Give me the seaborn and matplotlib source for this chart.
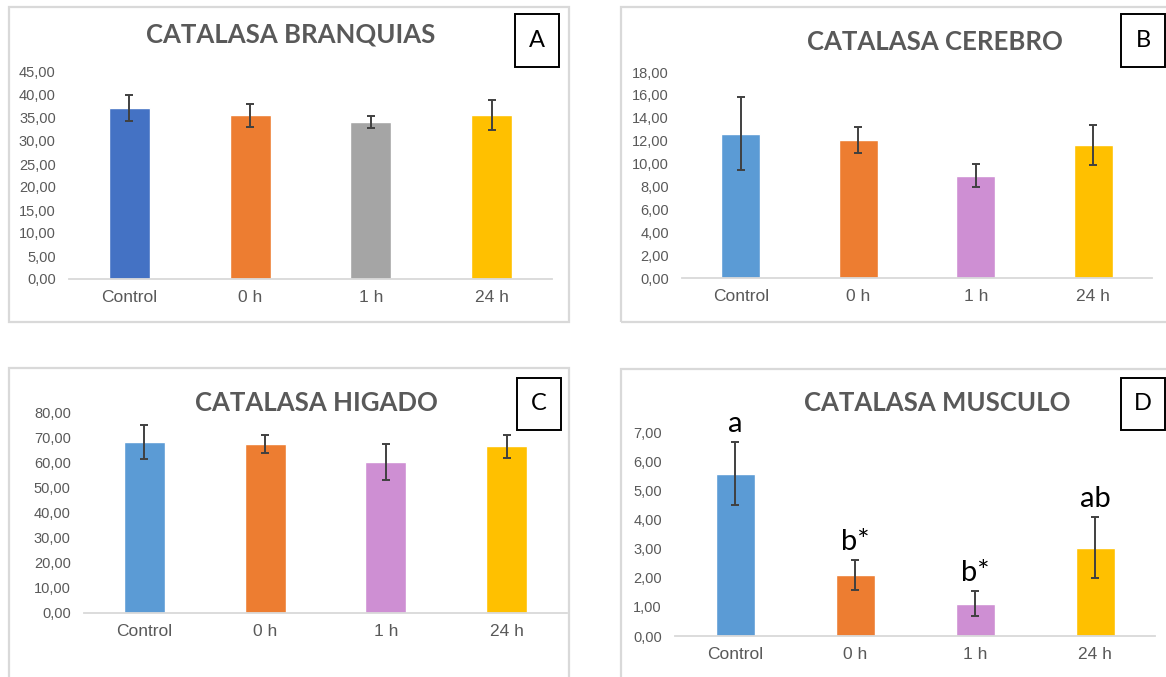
import matplotlib
matplotlib.use("Agg")
import matplotlib.pyplot as plt
from matplotlib.patches import Rectangle
from matplotlib.ticker import MultipleLocator, FuncFormatter
import pandas as pd
import seaborn as sns

# ---- data -------------------------------------------------------------
groups = ["Control", "0 h", "1 h", "24 h"]

branquias_mean = [37.1, 35.6, 34.1, 35.6]
branquias_err = [2.8, 2.5, 1.3, 3.3]

cerebro_mean = [12.6, 12.05, 8.95, 11.65]
cerebro_err = [3.2, 1.15, 1.0, 1.75]

higado_mean = [68.1, 67.2, 60.0, 66.3]
higado_err = [6.8, 3.6, 7.1, 4.5]

musculo_mean = [5.56, 2.10, 1.11, 3.03]
musculo_err = [1.08, 0.51, 0.43, 1.05]
musculo_letters = ["a", "b*", "b*", "ab"]

colors_a = ["#4472C4", "#ED7D31", "#A5A5A5", "#FFC000"]
colors_bcd = ["#5B9BD5", "#ED7D31", "#CE8FD3", "#FFC000"]

# ---- styling ----------------------------------------------------------
sns.set_style("white")
plt.rcParams["font.family"] = ["Liberation Sans", "DejaVu Sans"]

W, H = 1166, 677
fig = plt.figure(figsize=(W / 100, H / 100), dpi=100)
fig.patch.set_facecolor("white")

GRAY_TXT = "#595959"
FRAME = "#d9d9d9"
TITLE_FONT = ["Lato", "DejaVu Sans"]


def px_rect(x0, x1, ybot, ytop):
    return [x0 / W, 1 - ybot / H, (x1 - x0) / W, (ybot - ytop) / H]


def comma_fmt(v, _):
    return f"{v:.2f}".replace(".", ",")


panels = [
    dict(title="CATALASA BRANQUIAS", tag="A", mean=branquias_mean, err=branquias_err,
         colors=colors_a, ymax=45, step=5, axes=(69, 552, 279, 72),
         frame=(9, 7, 569, 322), title_xy=(291, 34), tag_box=(515, 14, 559, 67),
         width=0.34),
    dict(title="CATALASA CEREBRO", tag="B", mean=cerebro_mean, err=cerebro_err,
         colors=colors_bcd, ymax=18, step=2, axes=(682, 1152, 278, 72),
         frame=(621, 7, 1180, 322), title_xy=(935, 42), tag_box=(1121, 14, 1165, 67),
         width=0.33),
    dict(title="CATALASA HIGADO", tag="C", mean=higado_mean, err=higado_err,
         colors=colors_bcd, ymax=80, step=10, axes=(84, 567, 613, 412),
         frame=(9, 368, 569, 690), title_xy=(316, 403), tag_box=(517, 378, 561, 430),
         width=0.34),
    dict(title="CATALASA MUSCULO", tag="D", mean=musculo_mean, err=musculo_err,
         colors=colors_bcd, ymax=7, step=1, axes=(675, 1155, 636, 432),
         frame=(621, 369, 1180, 690), title_xy=(937, 403), tag_box=(1121, 378, 1165, 430),
         width=0.325, letters=musculo_letters),
]

for p in panels:
    # outer chart frame
    fx0, fy0, fx1, fy1 = p["frame"]
    fig.add_artist(Rectangle((fx0 / W, 1 - fy1 / H), (fx1 - fx0) / W, (fy1 - fy0) / H,
                             transform=fig.transFigure, facecolor="none",
                             edgecolor=FRAME, linewidth=1.6, zorder=0))

    x0, x1, ybot, ytop = p["axes"]
    ax = fig.add_axes(px_rect(x0, x1, ybot, ytop))
    ax.set_facecolor("none")

    df = pd.DataFrame({"grupo": groups, "valor": p["mean"]})
    sns.barplot(data=df, x="grupo", y="valor", hue="grupo", palette=p["colors"],
                order=groups, hue_order=groups, width=p["width"], legend=False,
                errorbar=None, saturation=1, ax=ax)
    ax.errorbar(range(len(groups)), p["mean"], yerr=p["err"], fmt="none",
                ecolor="#404040", elinewidth=1.4, capsize=2.6, capthick=1.4, zorder=5)

    ax.set_xlim(-0.5, len(groups) - 0.5)
    ax.set_ylim(0, p["ymax"])
    ax.yaxis.set_major_locator(MultipleLocator(p["step"]))
    ax.yaxis.set_major_formatter(FuncFormatter(comma_fmt))
    ax.set_xlabel("")
    ax.set_ylabel("")
    for s in ["left", "right", "top"]:
        ax.spines[s].set_visible(False)
    ax.spines["bottom"].set_color(FRAME)
    ax.spines["bottom"].set_linewidth(1.3)
    ax.tick_params(axis="y", length=0, pad=9.5, labelsize=10.5, labelcolor=GRAY_TXT)
    ax.tick_params(axis="x", length=0, pad=8, labelsize=12.5, labelcolor=GRAY_TXT)
    ax.grid(False)

    # significance letters above error bars
    if "letters" in p:
        for i, lab in enumerate(p["letters"]):
            ax.text(i, p["mean"][i] + p["err"][i] + 0.62, lab, ha="center", va="center",
                    fontsize=21, color="black", family=TITLE_FONT, clip_on=False)

    # chart title
    tx, ty = p["title_xy"]
    fig.text(tx / W, 1 - ty / H, p["title"], ha="center", va="center", fontsize=18.5,
             fontweight="bold", color=GRAY_TXT, family=TITLE_FONT)

    # panel tag in a box
    bx0, by0, bx1, by1 = p["tag_box"]
    fig.add_artist(Rectangle((bx0 / W, 1 - by1 / H), (bx1 - bx0) / W, (by1 - by0) / H,
                             transform=fig.transFigure, facecolor="white",
                             edgecolor="black", linewidth=1.4))
    fig.text((bx0 + bx1) / 2 / W, 1 - (by0 + by1) / 2 / H, p["tag"], ha="center",
             va="center", fontsize=17, color="black", family=TITLE_FONT)

fig.savefig("out.png", dpi=100)
